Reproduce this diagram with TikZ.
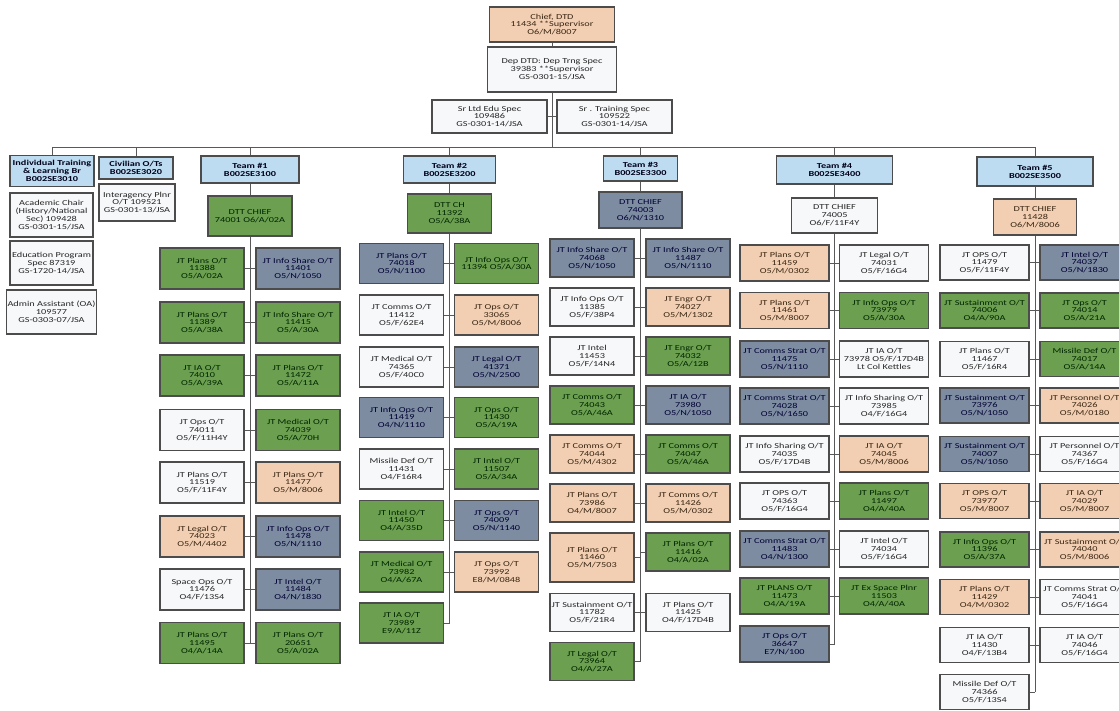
\documentclass[tikz,border=0pt]{standalone}
\usepackage{fontspec}
\setmainfont{Carlito}[FakeStretch=1.35]
\definecolor{cardgreen}{HTML}{6C9F50}
\definecolor{cardslate}{HTML}{7D8CA1}
\definecolor{cardpeach}{HTML}{F2CFB2}
\definecolor{cardwhite}{HTML}{F7F8FA}
\definecolor{cardblue}{HTML}{BDDCF2}

\begin{document}
\begin{tikzpicture}[
    x=1pt, y=-1pt,
    card/.style={draw=black!70, line width=1.1pt, rectangle, minimum width=84pt, minimum height=40pt, inner sep=1pt, align=center, font=\fontsize{7.6}{7.9}\selectfont},
    grn/.style={card, fill=cardgreen, text=green!15!black},
    slt/.style={card, fill=cardslate, text=blue!20!black},
    pch/.style={card, fill=cardpeach, text=brown!30!black},
    wht/.style={card, fill=cardwhite, text=black!85},
    hdr/.style={card, fill=cardblue, text=blue!10!black, font=\fontsize{7.6}{7.9}\selectfont\bfseries},
    link/.style={draw=black!65, line width=0.8pt}
]
    \clip (0,0) rectangle (1119,711);
    \fill[white] (0,0) rectangle (1119,711);

    % Front office
    \node[pch, minimum width=125pt, minimum height=35pt] (chief) at (552,24.5) {Chief, DTD\\11434 **Supervisor\\O6/M/8007};
    \node[wht, minimum width=129pt, minimum height=45pt] (dep) at (552,69.5) {Dep DTD: Dep Trng Spec\\39383 **Supervisor\\GS-0301-15/JSA};
    \node[wht, minimum width=115pt, minimum height=33pt] (sredu) at (489.5,116.5) {Sr Ltd Edu Spec\\109486\\GS-0301-14/JSA};
    \node[wht, minimum width=115pt, minimum height=33pt] (srtrng) at (614.5,116.5) {Sr . Training Spec\\109522\\GS-0301-14/JSA};
    \coordinate (bus) at (552,147);

    % Branches
    \node[hdr, minimum height=31pt] (itlb) at (52,171) {Individual Training\\\& Learning Br\\B002SE3010};
    \node[hdr, minimum width=74pt, minimum height=22pt] (civ) at (136,168) {Civilian O/Ts\\B002SE3020};
    \node[wht, minimum width=76pt, minimum height=37pt] (inter) at (137,202.5) {Interagency Plnr\\O/T 109521\\GS-0301-13/JSA};
    \node[wht, minimum width=83pt, minimum height=44pt] (acad) at (51.5,215) {Academic Chair\\(History/National\\Sec) 109428\\GS-0301-15/JSA};
    \node[wht, minimum width=83pt, minimum height=44pt] (edu) at (51.5,263) {Education Program\\Spec 87319\\GS-1720-14/JSA};
    \node[wht, minimum width=83pt, minimum height=44pt] (admin) at (51.5,312) {Admin Assistant (OA)\\109577\\GS-0303-07/JSA};

    % Team headers and chiefs
    \node[hdr, minimum width=98pt, minimum height=27pt] (t1hdr) at (250,169.5) {Team \#1\\B002SE3100};
    \node[hdr, minimum width=92pt, minimum height=27pt] (t2hdr) at (449.5,169.5) {Team \#2\\B002SE3200};
    \node[hdr, minimum width=74pt, minimum height=25pt] (t3hdr) at (640.5,168.5) {Team \#3\\B002SE3300};
    \node[hdr, minimum width=116pt, minimum height=28pt] (t4hdr) at (834.5,170) {Team \#4\\B002SE3400};
    \node[hdr, minimum width=116pt, minimum height=29pt] (t5hdr) at (1035,171.5) {Team \#5\\B002SE3500};

    \node[grn, minimum height=40pt] (t1chief) at (250,216) {DTT CHIEF\\74001 O6/A/02A};
    \node[grn, minimum height=39pt] (t2chief) at (449.5,213.5) {DTT CH\\11392\\O5/A/38A};
    \node[slt, minimum width=83pt, minimum height=36pt] (t3chief) at (640.5,210) {DTT CHIEF\\74003\\O6/N/1310};
    \node[wht, minimum width=86pt, minimum height=35pt] (t4chief) at (834.5,215.5) {DTT CHIEF\\74005\\O6/F/11F4Y};
    \node[pch, minimum width=83pt, minimum height=36pt] (t5chief) at (1035,217) {DTT CHIEF\\11428\\O6/M/8006};

    % Team #1
    \begin{scope}[card/.append style={minimum height=41pt}]
    \node[grn] (t1l1) at (202,268.5) {JT Plans O/T\\11388\\O5/A/02A};
    \node[slt] (t1r1) at (298,268.5) {JT Info Share O/T\\11401\\O5/N/1050};
    \node[grn] (t1l2) at (202,322.5) {JT Plans O/T\\11389\\O5/A/38A};
    \node[grn] (t1r2) at (298,322.5) {JT Info Share O/T\\11415\\O5/A/30A};
    \node[grn] (t1l3) at (202,375.5) {JT IA O/T\\74010\\O5/A/39A};
    \node[grn] (t1r3) at (298,375.5) {JT Plans O/T\\11472\\O5/A/11A};
    \node[wht] (t1l4) at (202,430) {JT Ops O/T\\74011\\O5/F/11H4Y};
    \node[grn] (t1r4) at (298,430) {JT Medical O/T\\74039\\O5/A/70H};
    \node[wht] (t1l5) at (202,482.5) {JT Plans O/T\\11519\\O5/F/11F4Y};
    \node[pch] (t1r5) at (298,482.5) {JT Plans O/T\\11477\\O5/M/8006};
    \node[pch] (t1l6) at (202,536.5) {JT Legal O/T\\74023\\O5/M/4402};
    \node[slt] (t1r6) at (298,536.5) {JT Info Ops O/T\\11478\\O5/N/1110};
    \node[wht] (t1l7) at (202,589.5) {Space Ops O/T\\11476\\O4/F/13S4};
    \node[slt] (t1r7) at (298,589.5) {JT Intel O/T\\11484\\O4/N/1830};
    \node[grn] (t1l8) at (202,643) {JT Plans O/T\\11495\\O4/A/14A};
    \node[grn] (t1r8) at (298,643) {JT Plans O/T\\20651\\O5/A/02A};
    \end{scope}

    % Team #2
    \begin{scope}[card/.append style={minimum height=40pt}]
    \node[slt] (t2l1) at (401.5,263.5) {JT Plans O/T\\74018\\O5/N/1100};
    \node[grn] (t2r1) at (496.5,263.5) {JT Info Ops O/T\\11394 O5/A/30A};
    \node[wht] (t2l2) at (401.5,315) {JT Comms O/T\\11412\\O5/F/62E4};
    \node[pch] (t2r2) at (496.5,315) {JT Ops O/T\\33065\\O5/M/8006};
    \node[wht] (t2l3) at (401.5,367) {JT Medical O/T\\74365\\O5/F/40C0};
    \node[slt] (t2r3) at (496.5,367) {JT Legal O/T\\41371\\O5/N/2500};
    \node[slt] (t2l4) at (401.5,417.5) {JT Info Ops O/T\\11419\\O4/N/1110};
    \node[grn] (t2r4) at (496.5,417.5) {JT Ops O/T\\11430\\O5/A/19A};
    \node[wht] (t2l5) at (401.5,469) {Missile Def O/T\\11431\\O4/F16R4};
    \node[grn] (t2r5) at (496.5,469) {JT Intel O/T\\11507\\O5/A/34A};
    \node[grn] (t2l6) at (401.5,520.5) {JT Intel O/T\\11450\\O4/A/35D};
    \node[slt] (t2r6) at (496.5,520.5) {JT Ops O/T\\74009\\O5/N/1140};
    \node[grn] (t2l7) at (401.5,572) {JT Medical O/T\\73982\\O4/A/67A};
    \node[pch] (t2r7) at (496.5,572) {JT Ops O/T\\73992\\E8/M/0848};
    \node[grn] (t2l8) at (401.5,623) {JT IA O/T\\73989\\E9/A/11Z};
    \end{scope}

    % Team #3
    \begin{scope}[card/.append style={minimum height=38pt}]
    \node[slt] (t3l1) at (592,258) {JT Info Share O/T\\74068\\O5/N/1050};
    \node[slt] (t3r1) at (688,258) {JT Info Share O/T\\11487\\O5/N/1110};
    \node[wht] (t3l2) at (592,307) {JT Info Ops O/T\\11385\\O5/F/38P4};
    \node[pch] (t3r2) at (688,307) {JT Engr O/T\\74027\\O5/M/1302};
    \node[wht] (t3l3) at (592,356) {JT Intel\\11453\\O5/F/14N4};
    \node[grn] (t3r3) at (688,356) {JT Engr O/T\\74032\\O5/A/12B};
    \node[grn] (t3l4) at (592,405) {JT Comms O/T\\74043\\O5/A/46A};
    \node[slt] (t3r4) at (688,405) {JT IA O/T\\73980\\O5/N/1050};
    \node[pch] (t3l5) at (592,454) {JT Comms O/T\\74044\\O5/M/4302};
    \node[grn] (t3r5) at (688,454) {JT Comms O/T\\74047\\O5/A/46A};
    \node[pch] (t3l6) at (592,503) {JT Plans O/T\\73986\\O4/M/8007};
    \node[pch] (t3r6) at (688,503) {JT Comms O/T\\11426\\O5/M/0302};
    \node[pch, minimum height=49pt] (t3l7) at (592,557.5) {JT Plans O/T\\11460\\O5/M/7503};
    \node[grn] (t3r7) at (688,552) {JT Plans O/T\\11416\\O4/A/02A};
    \node[wht] (t3l8) at (592,612.5) {JT Sustainment O/T\\11782\\O5/F/21R4};
    \node[wht] (t3r8) at (688,612.5) {JT Plans O/T\\11425\\O4/F/17D4B};
    \node[grn] (t3l9) at (592,661.5) {JT Legal O/T\\73964\\O4/A/27A};
    \end{scope}

    % Team #4
    \begin{scope}[card/.append style={minimum width=89pt, minimum height=36pt}]
    \node[pch] (t4l1) at (784.5,263) {JT Plans O/T\\11459\\O5/M/0302};
    \node[wht] (t4r1) at (884,263) {JT Legal O/T\\74031\\O5/F/16G4};
    \node[pch] (t4l2) at (784.5,310.5) {JT Plans O/T\\11461\\O5/M/8007};
    \node[grn] (t4r2) at (884,310.5) {JT Info Ops O/T\\73979\\O5/A/30A};
    \node[slt] (t4l3) at (784.5,359) {JT Comms Strat O/T\\11475\\O5/N/1110};
    \node[wht] (t4r3) at (884,359) {JT IA O/T\\73978 O5/F/17D4B\\Lt Col Kettles};
    \node[slt] (t4l4) at (784.5,406) {JT Comms Strat O/T\\74028\\O5/N/1650};
    \node[wht] (t4r4) at (884,406) {JT Info Sharing O/T\\73985\\O4/F/16G4};
    \node[wht] (t4l5) at (784.5,454) {JT Info Sharing O/T\\74035\\O5/F/17D4B};
    \node[pch] (t4r5) at (884,454) {JT IA O/T\\74045\\O5/M/8006};
    \node[wht] (t4l6) at (784.5,501) {JT OPS O/T\\74363\\O5/F/16G4};
    \node[grn] (t4r6) at (884,501) {JT Plans O/T\\11497\\O4/A/40A};
    \node[slt] (t4l7) at (784.5,549) {JT Comms Strat O/T\\11483\\O4/N/1300};
    \node[wht] (t4r7) at (884,549) {JT Intel O/T\\74034\\O5/F/16G4};
    \node[grn] (t4l8) at (784.5,596) {JT PLANS O/T\\11473\\O4/A/19A};
    \node[grn] (t4r8) at (884,596) {JT Ex Space Plnr\\11503\\O4/A/40A};
    \node[slt] (t4l9) at (784.5,644) {JT Ops O/T\\36647\\E7/N/100};
    \end{scope}

    % Team #5
    \begin{scope}[card/.append style={minimum width=89pt, minimum height=35pt}]
    \node[wht] (t5l1) at (984.5,262.5) {JT OPS O/T\\11479\\O5/F/11F4Y};
    \node[slt] (t5r1) at (1084.5,262.5) {JT Intel O/T\\74037\\O5/N/1830};
    \node[grn] (t5l2) at (984.5,310.5) {JT Sustainment O/T\\74006\\O4/A/90A};
    \node[grn] (t5r2) at (1084.5,310.5) {JT Ops O/T\\74014\\O5/A/21A};
    \node[wht] (t5l3) at (984.5,359) {JT Plans O/T\\11467\\O5/F/16R4};
    \node[grn] (t5r3) at (1084.5,359) {Missile Def O/T\\74017\\O5/A/14A};
    \node[slt] (t5l4) at (984.5,405.5) {JT Sustainment O/T\\73976\\O5/N/1050};
    \node[pch] (t5r4) at (1084.5,405.5) {JT Personnel O/T\\74026\\O5/M/0180};
    \node[slt] (t5l5) at (984.5,454) {JT Sustainment O/T\\74007\\O5/N/1050};
    \node[wht] (t5r5) at (1084.5,454) {JT Personnel O/T\\74367\\O5/F/16G4};
    \node[pch] (t5l6) at (984.5,501) {JT OPS O/T\\73977\\O5/M/8007};
    \node[pch] (t5r6) at (1084.5,501) {JT IA O/T\\74029\\O5/M/8007};
    \node[grn] (t5l7) at (984.5,549.5) {JT Info Ops O/T\\11396\\O5/A/37A};
    \node[pch] (t5r7) at (1084.5,549.5) {JT Sustainment O/T\\74040\\O5/M/8006};
    \node[pch] (t5l8) at (984.5,597) {JT Plans O/T\\11429\\O4/M/0302};
    \node[wht] (t5r8) at (1084.5,597) {JT Comms Strat O/T\\74041\\O5/F/16G4};
    \node[wht] (t5l9) at (984.5,645) {JT IA O/T\\11430\\O4/F/13B4};
    \node[wht] (t5r9) at (1084.5,645) {JT IA O/T\\74046\\O5/F/16G4};
    \node[wht] (t5l10) at (984.5,692) {Missile Def O/T\\74366\\O5/F/13S4};
    \end{scope}

    % Front office links
    \draw[link] (chief) -- (dep);
    \draw[link] (dep.south) -- (dep.south |- bus);
    \draw[link] (sredu.east) -- (sredu.east -| dep.south);
    \draw[link] (srtrng.west) -- (srtrng.west -| dep.south);

    % Bus to branches and teams
    \draw[link] (itlb.north) -- (itlb.north |- bus) -- (t5hdr.north |- bus) -- (t5hdr.north);
    \foreach \n in {civ, t1hdr, t2hdr, t3hdr, t4hdr}
        \draw[link] (\n.north) -- (\n.north |- bus);

    % Team spines
    \foreach \t/\last in {1/8, 2/8, 3/9, 4/9, 5/10} {
        \draw[link] (t\t hdr) -- (t\t chief);
        \draw[link] (t\t chief.south) -- (t\t chief.south |- t\t l\last.east);
    }
    \foreach \t/\rows in {1/8, 2/7, 3/8, 4/8, 5/9}
        \foreach \i in {1,...,\rows} {
            \draw[link] (t\t l\i.east) -- (t\t l\i.east -| t\t chief.south);
            \draw[link] (t\t r\i.west) -- (t\t r\i.west -| t\t chief.south);
        }
    \draw[link] (t2l8.east) -- (t2l8.east -| t2chief.south);
    \draw[link] (t3l9.east) -- (t3l9.east -| t3chief.south);
    \draw[link] (t4l9.east) -- (t4l9.east -| t4chief.south);
    \draw[link] (t5l10.east) -- (t5l10.east -| t5chief.south);

\end{tikzpicture}
\end{document}
